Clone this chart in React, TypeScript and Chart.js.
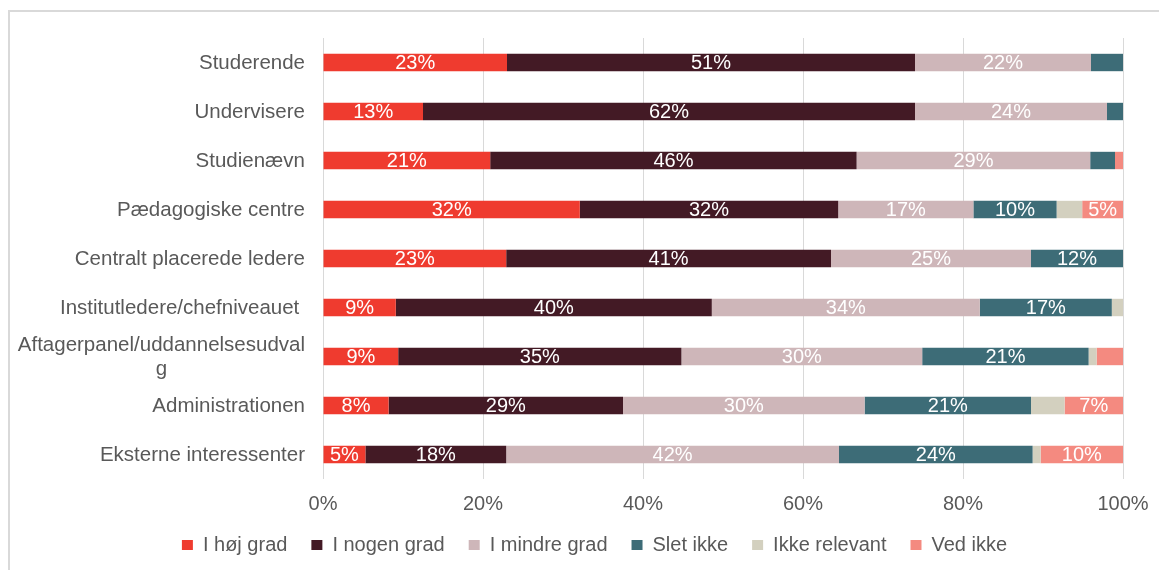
import React, { useEffect, useRef } from "react";
import { Chart, registerables } from "chart.js";

Chart.register(...registerables);

const categories = [
  "Studerende",
  "Undervisere",
  "Studienævn",
  "Pædagogiske centre",
  "Centralt placerede ledere",
  "Institutledere/chefniveauet ",
  "Aftagerpanel/uddannelsesudval\ng",
  "Administrationen",
  "Eksterne interessenter",
];

const seriesNames = ["I høj grad", "I nogen grad", "I mindre grad", "Slet ikke", "Ikke relevant", "Ved ikke"];

const hojGrad = [23, 12.5, 20.9, 32.1, 22.9, 9.1, 9.4, 8.2, 5.3];
const nogenGrad = [51, 61.5, 45.8, 32.3, 40.6, 39.5, 35.4, 29.3, 17.6];
const mindreGrad = [22, 24, 29.2, 16.9, 25, 33.5, 30.1, 30.2, 41.6];
const sletIkke = [4, 2, 3.1, 10.4, 11.5, 16.5, 20.8, 20.8, 24.2];
const ikkeRelevant = [0, 0, 0, 3.2, 0, 1.4, 1, 4.2, 1];
const vedIkke = [0, 0, 1, 5.1, 0, 0, 3.3, 7.3, 10.3];

const seriesColors = ["#EF3B2F", "#431A25", "#CEB6B9", "#3D6C77", "#D3D0BF", "#F48A80"];

const xMin = 0;
const xMax = 100;
const xStep = 20;

const FONT = "'Liberation Sans', Arial, sans-serif";
const TEXT = "#595959";

const segmentLabels = {
  id: "segmentLabels",
  afterDatasetsDraw(chart: any) {
    const ctx = chart.ctx;
    ctx.save();
    ctx.font = `20px ${FONT}`;
    ctx.fillStyle = "#FFFFFF";
    ctx.textAlign = "center";
    ctx.textBaseline = "middle";
    chart.data.datasets.forEach((ds: any, di: number) => {
      const meta = chart.getDatasetMeta(di);
      meta.data.forEach((el: any, i: number) => {
        const v = ds.data[i];
        if (Math.round(v) < 5) return;
        const { x, y, base } = el.getProps(["x", "y", "base"], true);
        ctx.fillText(Math.round(v) + "%", (x + base) / 2, y + 1);
      });
    });
    ctx.restore();
  },
};

const categoryLabels = {
  id: "categoryLabels",
  afterDraw(chart: any) {
    const ctx = chart.ctx;
    const ys = chart.scales.y;
    ctx.save();
    ctx.font = `20.5px ${FONT}`;
    ctx.fillStyle = TEXT;
    ctx.textAlign = "center";
    ctx.textBaseline = "middle";
    const right = chart.chartArea.left - 18;
    (chart.data.labels as string[]).forEach((c, i) => {
      const lines = c.split("\n");
      const w = Math.max(...lines.map((l) => ctx.measureText(l).width));
      const cx = right - w / 2;
      const y = ys.getPixelForValue(i);
      lines.forEach((l, k) => {
        ctx.fillText(l, cx, y + (k - (lines.length - 1) / 2) * 24 + 1);
      });
    });
    ctx.restore();
  },
};

export default function App() {
  const ref = useRef<HTMLCanvasElement | null>(null);

  useEffect(() => {
    if (!ref.current) return;
    const seriesData = [hojGrad, nogenGrad, mindreGrad, sletIkke, ikkeRelevant, vedIkke];
    const chart = new Chart(ref.current, {
      type: "bar",
      data: {
        labels: categories,
        datasets: seriesNames.map((n, k) => ({
          label: n,
          data: seriesData[k],
          backgroundColor: seriesColors[k],
          borderWidth: 0,
          categoryPercentage: 1,
          barPercentage: 0.355,
        })),
      },
      options: {
        indexAxis: "y",
        animation: false,
        responsive: false,
        maintainAspectRatio: false,
        devicePixelRatio: 1,
        layout: { padding: { top: 38, left: 66, right: 36, bottom: 5 } },
        plugins: {
          legend: {
            position: "bottom",
            labels: {
              boxWidth: 11,
              boxHeight: 10,
              padding: 24,
              color: TEXT,
              font: { family: FONT, size: 20 },
            },
          },
          tooltip: { enabled: false },
        },
        scales: {
          x: {
            stacked: true,
            min: xMin,
            max: xMax,
            ticks: {
              stepSize: xStep,
              callback: (v: any) => v + "%",
              color: TEXT,
              font: { family: FONT, size: 20 },
              padding: 13,
            },
            grid: { color: "#D9D9D9", lineWidth: 1, drawTicks: false },
            border: { display: false },
            afterFit: (s: any) => {
              s.height = 32;
              s.paddingLeft = 0;
              s.paddingRight = 0;
            },
          },
          y: {
            stacked: true,
            ticks: { display: false },
            grid: { display: false },
            border: { display: false },
            afterFit: (s: any) => {
              s.width = 257;
            },
          },
        },
      },
      plugins: [segmentLabels, categoryLabels],
    } as any);
    return () => chart.destroy();
  }, []);

  return (
    <div style={{ position: "fixed", left: 0, top: 0, width: 1159, height: 570, background: "#FFFFFF", overflow: "hidden" }}>
      <div
        style={{
          position: "absolute",
          left: 8,
          top: 10,
          width: 1151,
          height: 560,
          boxSizing: "border-box",
          borderTop: "2px solid #D9D9D9",
          borderLeft: "2px solid #D9D9D9",
        }}
      />
      <canvas ref={ref} width={1159} height={570} style={{ position: "absolute", left: 0, top: 0, width: 1159, height: 570 }} />
    </div>
  );
}
